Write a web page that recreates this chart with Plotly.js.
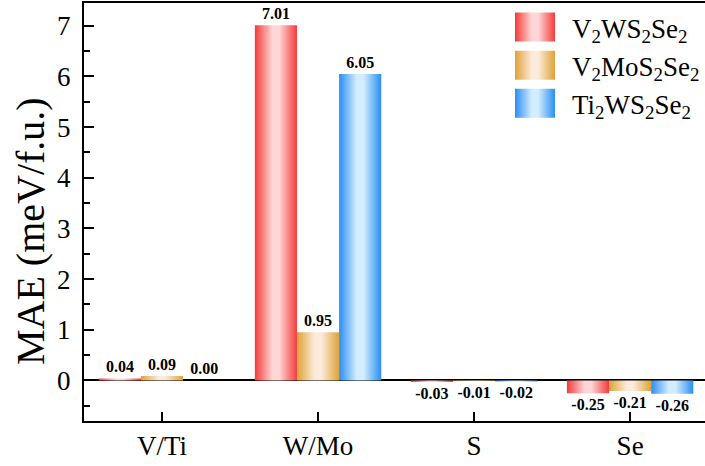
<!DOCTYPE html>
<html><head><meta charset="utf-8">
<script src="https://cdn.plot.ly/plotly-3.0.1.min.js"></script>
<style>html,body{margin:0;padding:0;background:#fff}</style>
</head><body><div id="chart" style="width:705px;height:466px"></div>
<script>
const categories = ['V/Ti', 'W/Mo', 'S', 'Se'];
const seriesNames = ['V<sub>2</sub>WS<sub>2</sub>Se<sub>2</sub>', 'V<sub>2</sub>MoS<sub>2</sub>Se<sub>2</sub>', 'Ti<sub>2</sub>WS<sub>2</sub>Se<sub>2</sub>'];
const v2ws2se2 = [0.04, 7.01, -0.03, -0.25];
const v2mos2se2 = [0.09, 0.95, -0.01, -0.21];
const ti2ws2se2 = [0.00, 6.05, -0.02, -0.26];
const yTickVals = [0, 1, 2, 3, 4, 5, 6, 7];
const yTitle = 'MAE (meV/f.u.)';
const edgeColors = ['#f43a3a', '#dfa238', '#2a8ef2'];
const midColors = ['#ffd6d6', '#fcebda', '#d2edff'];

const serif = 'Liberation Serif, Times New Roman, serif';
const seriesValues = [v2ws2se2, v2mos2se2, ti2ws2se2];

const traces = seriesValues.map((vals, i) => ({
  type: 'bar',
  x: categories,
  y: vals,
  name: seriesNames[i],
  legendgroup: 'g' + i,
  marker: { color: edgeColors[i], line: { width: 0 } },
  texttemplate: '%{y:.2f}',
  textposition: 'outside',
  constraintext: 'none',
  cliponaxis: false,
  textfont: { family: serif, size: 16, color: '#000', weight: 'bold' },
  hoverinfo: 'skip'
}));

const layout = {
  width: 705, height: 466,
  margin: { l: 84, r: 0, t: 3, b: 45 },
  paper_bgcolor: '#fff', plot_bgcolor: '#fff',
  barmode: 'group', bargap: 0.19, bargroupgap: 0,
  showlegend: true,
  legend: {
    x: 1, xanchor: 'right', y: 1, yanchor: 'top',
    font: { family: serif, size: 27, color: '#000' },
    itemwidth: 64, tracegroupgap: 0, traceorder: 'grouped',
    bgcolor: 'rgba(0,0,0,0)', borderwidth: 0
  },
  xaxis: {
    type: 'category', range: [-0.5, 3.48],
    showline: true, linecolor: '#000', linewidth: 2, mirror: true,
    ticks: 'inside', ticklen: 9, tickwidth: 2, tickcolor: '#000',
    tickfont: { family: serif, size: 27, color: '#000' },
    showgrid: false, zeroline: false
  },
  yaxis: {
    range: [-0.8, 7.45],
    tickmode: 'array', tickvals: yTickVals,
    showline: true, linecolor: '#000', linewidth: 2, mirror: false,
    ticks: 'inside', ticklen: 10, tickwidth: 2, tickcolor: '#000',
    minor: { dtick: 0.5, ticks: 'inside', ticklen: 6, tickwidth: 2, tickcolor: '#000', showgrid: false },
    tickfont: { family: serif, size: 27, color: '#000' },
    ticklabelstandoff: 6,
    showgrid: false,
    zeroline: true, zerolinecolor: '#000', zerolinewidth: 2
  },
  annotations: [{
    text: yTitle, xref: 'paper', yref: 'paper',
    x: -0.085, y: 0.455, xanchor: 'center', yanchor: 'middle',
    textangle: -90, showarrow: false,
    font: { family: serif, size: 40, color: '#000' }
  }]
};

Plotly.newPlot('chart', traces, layout, { staticPlot: true, displayModeBar: false }).then(gd => {
  const svg = gd.querySelector('.main-svg');
  let defs = svg.querySelector('defs');
  if (!defs) { defs = document.createElementNS('http://www.w3.org/2000/svg', 'defs'); svg.insertBefore(defs, svg.firstChild); }
  edgeColors.forEach((c, i) => {
    const g = document.createElementNS('http://www.w3.org/2000/svg', 'linearGradient');
    g.setAttribute('id', 'barGrad' + i);
    g.setAttribute('x1', '0'); g.setAttribute('x2', '1'); g.setAttribute('y1', '0'); g.setAttribute('y2', '0');
    [[0, c], [0.42, midColors[i]], [0.58, midColors[i]], [1, c]].forEach(([o, col]) => {
      const s = document.createElementNS('http://www.w3.org/2000/svg', 'stop');
      s.setAttribute('offset', o); s.setAttribute('stop-color', col);
      g.appendChild(s);
    });
    defs.appendChild(g);
  });
  gd.querySelectorAll('.barlayer .trace.bars').forEach((t, i) => {
    t.querySelectorAll('.point path').forEach(p => { p.style.fill = 'url(#barGrad' + i + ')'; });
  });
  gd.querySelectorAll('.legend .traces').forEach((t, i) => {
    t.querySelectorAll('.legendpoints path').forEach(p => {
      p.setAttribute('d', 'M20,14.5H-20V-14.5H20Z');
      p.style.fill = 'url(#barGrad' + i + ')';
    });
  });
});
</script>
</body></html>
